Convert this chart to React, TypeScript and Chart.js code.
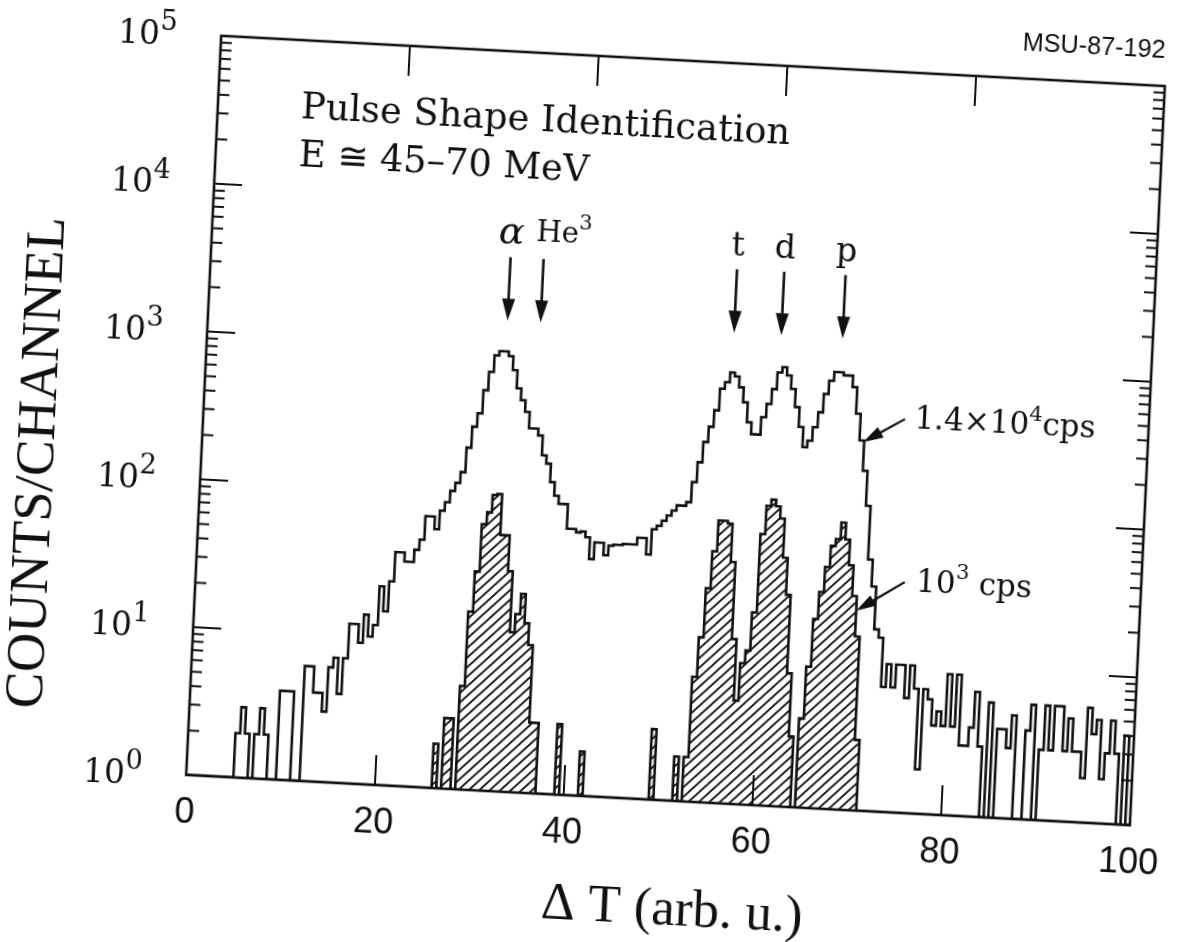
import React, { useEffect, useRef } from "react";
import { Chart, registerables } from "chart.js";

Chart.register(...registerables);

// ---------------- data ----------------
const BIN_WIDTH = 0.5; // ΔT units per channel
const X_MIN = 0;
const X_MAX = 100;
const Y_MIN = 1;
const Y_MAX = 1e5;

// 1.4×10^4 cps spectrum (open histogram), one value per 0.5-wide channel, 0 … 99.5
const openCounts: number[] = [
  1, 1, 1, 1, 1, 1, 1, 1, 1, 1,
  2, 3, 2, 1, 2, 3, 2, 1, 1, 4,
  4, 4, 1, 1, 6, 6, 4, 4, 3, 6,
  7, 4, 7, 12, 12, 9, 14, 10, 12, 22,
  15, 24, 38, 38, 33, 33, 40, 47, 68, 68,
  56, 75, 86, 103, 117, 139, 204, 284, 351, 505,
  675, 877, 940, 940, 877, 707, 535, 446, 374, 290,
  290, 262, 193, 170, 128, 104, 92, 92, 63, 63,
  60, 61, 56, 40, 52, 52, 43, 50, 51, 51,
  52, 52, 52, 58, 58, 45, 67, 71, 77, 84,
  91, 99, 99, 105, 144, 197, 271, 345, 448, 630,
  700, 817, 770, 653, 519, 382, 318, 318, 418, 516,
  653, 850, 925, 817, 665, 503, 371, 272, 302, 374,
  473, 632, 780, 897, 897, 857, 857, 720, 478, 316,
  198, 115, 50, 33, 17, 15, 7, 10, 7, 10,
  10, 6, 10, 7, 2, 7, 6, 4, 5, 4,
  9, 4, 9, 3, 3, 4, 7, 3, 1, 6,
  1, 4, 4, 3, 5, 1, 1, 4, 6, 1,
  3, 6, 3, 6, 6, 3, 5, 3, 3, 2,
  6, 4, 5, 2, 3, 5, 3, 1, 4, 1,
];

// 10^3 cps spectrum (hatched histogram), same channels
const hatchedCounts: number[] = [
  1, 1, 1, 1, 1, 1, 1, 1, 1, 1,
  1, 1, 1, 1, 1, 1, 1, 1, 1, 1,
  1, 1, 1, 1, 1, 1, 1, 1, 1, 1,
  1, 1, 1, 1, 1, 1, 1, 1, 1, 1,
  1, 1, 1, 1, 1, 1, 1, 1, 1, 1,
  1, 1, 2, 1, 3, 3, 1, 5, 16, 30,
  63, 76, 100, 102, 54, 54, 31, 12, 16, 22,
  14, 10, 3, 3, 1, 1, 1, 1, 3, 1,
  1, 1, 1, 2, 1, 1, 1, 1, 1, 1,
  1, 1, 1, 1, 1, 1, 1, 1, 3, 1,
  1, 1, 1, 2, 1, 2, 7, 13, 28, 50,
  81, 81, 78, 43, 13, 5, 9, 11, 20, 68,
  106, 117, 106, 88, 48, 27, 8, 3, 1, 4,
  9, 19, 29, 43, 60, 67, 87, 67, 45, 28,
  15, 3, 1, 1, 1, 1, 1, 1, 1, 1,
  1, 1, 1, 1, 1, 1, 1, 1, 1, 1,
  1, 1, 1, 1, 1, 1, 1, 1, 1, 1,
  1, 1, 1, 1, 1, 1, 1, 1, 1, 1,
  1, 1, 1, 1, 1, 1, 1, 1, 1, 1,
  1, 1, 1, 1, 1, 1, 1, 1, 1, 1,
];

const xTickValues = [0, 20, 40, 60, 80, 100];
const yTickExponents = [0, 1, 2, 3, 4, 5];

// particle identification markers (ΔT position of each ridge)
const particleNames = ["α", "He", "t", "d", "p"];
const particleSups = ["", "3", "", "", ""];
const particlePositions = [31.7, 35.2, 55.7, 60.7, 67.2];

const INK = "#111";

// ---------------- helpers ----------------
type Seg = { t: string; font: string; dy?: number };

function drawRich(
  ctx: CanvasRenderingContext2D,
  x: number,
  y: number,
  segs: Seg[],
  align: "left" | "center" | "right"
) {
  ctx.textAlign = "left";
  ctx.textBaseline = "alphabetic";
  const widths = segs.map((s) => {
    ctx.font = s.font;
    return ctx.measureText(s.t).width;
  });
  const total = widths.reduce((p, c) => p + c, 0);
  let cx = align === "left" ? x : align === "center" ? x - total / 2 : x - total;
  segs.forEach((s, i) => {
    ctx.font = s.font;
    ctx.fillText(s.t, cx, y + (s.dy || 0));
    cx += widths[i];
  });
}

function fitSize(ctx: CanvasRenderingContext2D, text: string, style: string, family: string, target: number) {
  ctx.font = `${style} 100px ${family}`;
  const w = ctx.measureText(text).width || 1;
  return (100 * target) / w;
}

function arrow(
  ctx: CanvasRenderingContext2D,
  x1: number,
  y1: number,
  x2: number,
  y2: number,
  head = 22,
  half = 6.5
) {
  const ang = Math.atan2(y2 - y1, x2 - x1);
  const bx = x2 - head * Math.cos(ang);
  const by = y2 - head * Math.sin(ang);
  ctx.beginPath();
  ctx.moveTo(x1, y1);
  ctx.lineTo(bx + Math.cos(ang), by + Math.sin(ang));
  ctx.stroke();
  ctx.beginPath();
  ctx.moveTo(x2, y2);
  ctx.lineTo(bx + half * Math.sin(ang), by - half * Math.cos(ang));
  ctx.lineTo(bx - half * Math.sin(ang), by + half * Math.cos(ang));
  ctx.closePath();
  ctx.fill();
}

function toSteps(counts: number[]) {
  const pts = counts.map((c, i) => ({ x: X_MIN + i * BIN_WIDTH, y: c }));
  pts.push({ x: X_MIN + counts.length * BIN_WIDTH, y: counts[counts.length - 1] });
  return pts;
}

function makeHatch(): CanvasPattern | string {
  const c = document.createElement("canvas");
  c.width = 10;
  c.height = 10;
  const g = c.getContext("2d");
  if (!g) return "rgba(0,0,0,0.4)";
  g.strokeStyle = INK;
  g.lineWidth = 1.9;
  g.beginPath();
  g.moveTo(0, 10);
  g.lineTo(10, 0);
  g.moveTo(-5, 5);
  g.lineTo(5, -5);
  g.moveTo(5, 15);
  g.lineTo(15, 5);
  g.stroke();
  return g.createPattern(c, "repeat") || "rgba(0,0,0,0.4)";
}

const decorPlugin = {
  id: "decor",
  beforeDraw(chart: any) {
    const ctx = chart.ctx as CanvasRenderingContext2D;
    ctx.save();
    ctx.fillStyle = "#fff";
    ctx.fillRect(0, 0, chart.width, chart.height);
    ctx.restore();
  },
  afterDraw(chart: any) {
    const ctx = chart.ctx as CanvasRenderingContext2D;
    const a = chart.chartArea;
    const xs = chart.scales.x;
    const ys = chart.scales.y;
    const X = (v: number) => xs.getPixelForValue(v);
    const Y = (v: number) => ys.getPixelForValue(v);
    const seg = (x1: number, y1: number, x2: number, y2: number) => {
      ctx.beginPath();
      ctx.moveTo(x1, y1);
      ctx.lineTo(x2, y2);
      ctx.stroke();
    };

    ctx.save();
    ctx.strokeStyle = INK;
    ctx.fillStyle = INK;
    ctx.lineCap = "butt";

    // frame
    ctx.lineWidth = 2.6;
    ctx.strokeRect(a.left, a.top, a.right - a.left, a.bottom - a.top);

    // inward ticks
    ctx.lineWidth = 2;
    for (const e of yTickExponents) {
      const y = Y(Math.pow(10, e));
      seg(a.left, y, a.left + 28, y);
      seg(a.right, y, a.right - 28, y);
      if (e < yTickExponents[yTickExponents.length - 1]) {
        for (let m = 2; m <= 9; m++) {
          const ym = Y(m * Math.pow(10, e));
          seg(a.left, ym, a.left + 11, ym);
          seg(a.right, ym, a.right - 11, ym);
        }
      }
    }
    for (const t of xTickValues) {
      if (t <= X_MIN || t >= X_MAX) continue;
      const x = X(t);
      seg(x, a.bottom, x, a.bottom - 30);
      seg(x, a.top, x, a.top + 30);
    }

    // y tick labels 10^n
    for (const e of yTickExponents) {
      const y = Y(Math.pow(10, e));
      drawRich(
        ctx,
        a.left - 44,
        y + 12,
        [
          { t: "10", font: "33px 'DejaVu Serif'" },
          { t: String(e), font: "27px 'DejaVu Serif'", dy: -15 },
        ],
        "right"
      );
    }

    // x tick labels
    ctx.font = "36px 'Liberation Sans'";
    ctx.textAlign = "center";
    ctx.textBaseline = "alphabetic";
    for (const t of xTickValues) {
      ctx.fillText(String(t), X(t), a.bottom + 48);
    }

    // axis titles
    const xtSize = fitSize(ctx, "Δ T (arb. u.)", "", "'Liberation Serif'", 262);
    ctx.font = `${xtSize}px 'Liberation Serif'`;
    ctx.textAlign = "center";
    ctx.fillText("Δ T (arb. u.)", (a.left + a.right) / 2 + 19, a.bottom + 124);

    const ytSize = fitSize(ctx, "COUNTS/CHANNEL", "", "'Liberation Serif'", 492);
    ctx.save();
    ctx.translate(53, (a.top + a.bottom) / 2 + 66);
    ctx.rotate(-Math.PI / 2);
    ctx.font = `${ytSize}px 'Liberation Serif'`;
    ctx.textAlign = "center";
    ctx.fillText("COUNTS/CHANNEL", 0, 0);
    ctx.restore();

    // figure id
    const idSize = fitSize(ctx, "MSU-87-192", "", "'Liberation Sans'", 143);
    ctx.font = `${idSize}px 'Liberation Sans'`;
    ctx.textAlign = "right";
    ctx.fillText("MSU-87-192", a.right - 1, a.top - 28);

    // title lines
    const tSize = fitSize(ctx, "Pulse Shape Identification", "", "'DejaVu Serif'", 490);
    ctx.font = `${tSize}px 'DejaVu Serif'`;
    ctx.textAlign = "left";
    ctx.fillText("Pulse Shape Identification", X(8.8), Y(Math.pow(10, 4.47)));
    ctx.fillText("E ≅ 45–70 MeV", X(8.8), Y(Math.pow(10, 4.15)));

    // particle arrows and labels
    ctx.lineWidth = 2.6;
    particlePositions.forEach((p, i) => {
      const x = X(p);
      arrow(ctx, x, Y(Math.pow(10, 3.61)), x, Y(Math.pow(10, 3.18)), 22, 6.5);
      const base = Y(Math.pow(10, 3.7));
      if (particleSups[i]) {
        drawRich(
          ctx,
          X(p - 0.9),
          Y(Math.pow(10, 3.73)),
          [
            { t: particleNames[i], font: "29px 'DejaVu Serif'" },
            { t: particleSups[i], font: "21px 'DejaVu Serif'", dy: -14 },
          ],
          "left"
        );
      } else if (particleNames[i] === "α") {
        drawRich(ctx, x, base, [{ t: particleNames[i], font: "italic 38px 'DejaVu Serif'" }], "center");
      } else {
        drawRich(ctx, x, base, [{ t: particleNames[i], font: "33px 'DejaVu Serif'" }], "center");
      }
    });

    // rate labels with arrows
    ctx.lineWidth = 2.2;
    arrow(ctx, X(74.2), Y(Math.pow(10, 2.66)), X(69.9), Y(Math.pow(10, 2.49)), 20, 6);
    drawRich(
      ctx,
      X(75.2),
      Y(Math.pow(10, 2.6)),
      [
        { t: "1.4×10", font: "31px 'DejaVu Serif'" },
        { t: "4", font: "21px 'DejaVu Serif'", dy: -14 },
        { t: "cps", font: "31px 'DejaVu Serif'" },
      ],
      "left"
    );
    arrow(ctx, X(75.0), Y(Math.pow(10, 1.56)), X(70.0), Y(Math.pow(10, 1.35)), 20, 6);
    drawRich(
      ctx,
      X(76.2),
      Y(Math.pow(10, 1.5)),
      [
        { t: "10", font: "31px 'DejaVu Serif'" },
        { t: "3", font: "21px 'DejaVu Serif'", dy: -15 },
        { t: " cps", font: "31px 'DejaVu Serif'" },
      ],
      "left"
    );

    ctx.restore();
  },
};

export default function App() {
  const ref = useRef<HTMLCanvasElement | null>(null);

  useEffect(() => {
    const canvas = ref.current;
    if (!canvas) return;
    const hatch = makeHatch();
    const chart = new Chart(canvas, {
      type: "line",
      data: {
        datasets: [
          {
            label: "10³ cps",
            data: toSteps(hatchedCounts),
            stepped: "before",
            borderColor: INK,
            borderWidth: 2.6,
            pointRadius: 0,
            fill: "start",
            backgroundColor: hatch as any,
          },
          {
            label: "1.4×10⁴ cps",
            data: toSteps(openCounts),
            stepped: "before",
            borderColor: INK,
            borderWidth: 2.6,
            pointRadius: 0,
            fill: false,
          },
        ],
      },
      options: {
        responsive: false,
        animation: false,
        events: [],
        layout: { padding: { left: 201, right: 33, top: 56, bottom: 146 } },
        plugins: { legend: { display: false }, tooltip: { enabled: false } },
        elements: { line: { tension: 0 } },
        scales: {
          x: { type: "linear", min: X_MIN, max: X_MAX, display: false },
          y: { type: "logarithmic", min: Y_MIN, max: Y_MAX, display: false },
        },
      },
      plugins: [decorPlugin],
    } as any);
    return () => chart.destroy();
  }, []);

  return (
    <div
      style={{
        position: "fixed",
        left: 0,
        top: 0,
        width: 1179,
        height: 942,
        overflow: "hidden",
        background: "#fff",
      }}
    >
      <canvas
        ref={ref}
        width={1179}
        height={942}
        style={{
          display: "block",
          width: 1179,
          height: 942,
          transformOrigin: "589.5px 471px",
          transform: "matrix(0.99858, 0.05321, -0.04728, 0.99888, 0, 0)",
        }}
      />
    </div>
  );
}
